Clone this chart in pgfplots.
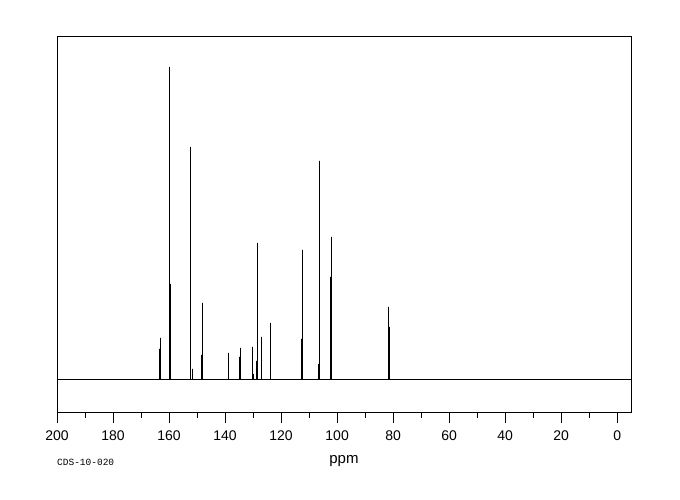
\documentclass[border=0pt]{standalone}
\usepackage{fontspec}
\setmainfont{Liberation Sans}
\setmonofont{Liberation Mono}
\usepackage{pgfplots}
\pgfplotsset{compat=1.18}
\begin{document}
\begin{tikzpicture}
\useasboundingbox (-57pt,-88pt) rectangle (623pt,412pt);
\begin{axis}[
  at={(0pt,0pt)}, anchor=south west,
  scale only axis, width=574pt, height=376pt,
  x dir=reverse, xmin=-4.9, xmax=200,
  ymin=-33, ymax=343,
  xtick={0,20,...,200}, minor x tick num=1,
  ytick=\empty,
  xtick pos=bottom, tick align=outside,
  major tick length=11pt, minor tick length=6pt,
  every tick/.style={black, line width=0.8pt},
  axis line style={line width=0.8pt},
  /pgf/number format/assume math mode=true,
  /pgf/number format/1000 sep={},
  xticklabel style={font=\fontsize{14}{14}\selectfont, inner sep=1pt, yshift=-7pt},
  xlabel={ppm}, xlabel style={font=\fontsize{15}{15}\selectfont, at={(axis description cs:0.5,0)}, anchor=center, yshift=-49pt},
  clip=false,
]
\addplot[black, line width=0.9pt, line join=miter] coordinates {
(-4.9,0) (81.4,0) (81.4,52) (81.4,0) (81.7,0) (81.7,72) (81.7,0)
(102.0,0) (102.0,142) (102.0,0) (102.4,0) (102.4,102) (102.4,0)
(106.4,0) (106.4,218) (106.4,0) (106.6,0) (106.6,15) (106.6,0)
(112.5,0) (112.5,129) (112.5,0) (112.8,0) (112.8,40) (112.8,0)
(123.9,0) (123.9,56) (123.9,0)
(127.1,0) (127.1,42) (127.1,0)
(128.6,0) (128.6,136) (128.6,0) (128.9,0) (128.9,18) (128.9,0)
(130.0,0) (130.0,5) (130.0,0) (130.4,0) (130.4,32) (130.4,0)
(134.6,0) (134.6,31) (134.6,0) (135.0,0) (135.0,22) (135.0,0)
(138.9,0) (138.9,26) (138.9,0)
(148.2,0) (148.2,76) (148.2,0) (148.5,0) (148.5,24) (148.5,0)
(151.8,0) (151.8,10) (151.8,0) (152.25,0) (152.25,232) (152.25,0)
(159.6,0) (159.6,95) (159.6,0) (160.0,0) (160.0,312) (160.0,0)
(163.1,0) (163.1,41) (163.1,0) (163.4,0) (163.4,30) (163.4,0)
(200,0)
};
\node[anchor=west, inner sep=0pt, font=\ttfamily\fontsize{9.5}{9.5}\selectfont] at (rel axis cs:0,0) [yshift=-50pt] {CDS-10-020};
\end{axis}
\end{tikzpicture}
\end{document}
